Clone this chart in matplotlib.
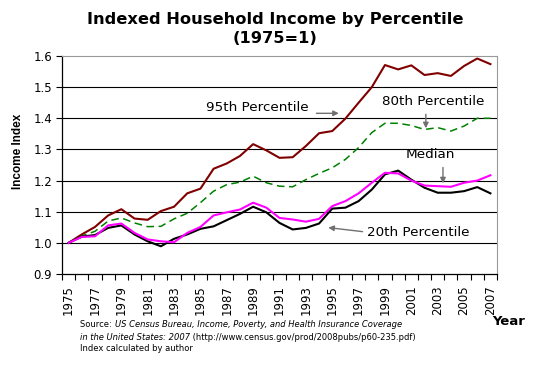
import numpy as np
import matplotlib.pyplot as plt

years = np.arange(1975, 2008)

p95 = [1.000, 1.027, 1.051, 1.088, 1.108, 1.078, 1.074, 1.102, 1.116, 1.159, 1.174,
       1.238, 1.255, 1.279, 1.317, 1.297, 1.273, 1.275, 1.311, 1.352, 1.359, 1.399,
       1.450, 1.500, 1.571, 1.557, 1.570, 1.539, 1.545, 1.536, 1.568, 1.592, 1.574]
p80 = [1.000, 1.022, 1.037, 1.070, 1.080, 1.064, 1.052, 1.053, 1.077, 1.095, 1.129,
       1.166, 1.187, 1.195, 1.214, 1.193, 1.182, 1.180, 1.203, 1.223, 1.241, 1.268,
       1.306, 1.354, 1.384, 1.384, 1.377, 1.364, 1.370, 1.359, 1.375, 1.400, 1.400]
median = [1.000, 1.019, 1.021, 1.056, 1.062, 1.032, 1.011, 1.005, 1.002, 1.032, 1.051,
          1.088, 1.098, 1.107, 1.129, 1.113, 1.080, 1.075, 1.068, 1.077, 1.118, 1.134,
          1.159, 1.193, 1.225, 1.223, 1.200, 1.184, 1.182, 1.180, 1.193, 1.200, 1.217]
p20 = [1.000, 1.020, 1.025, 1.048, 1.056, 1.027, 1.005, 0.989, 1.013, 1.027, 1.045,
       1.053, 1.073, 1.093, 1.116, 1.098, 1.064, 1.043, 1.048, 1.062, 1.110, 1.113,
       1.134, 1.171, 1.220, 1.232, 1.203, 1.177, 1.161, 1.161, 1.166, 1.179, 1.159]

yticks = np.arange(0.9, 1.65, 0.1)
xlabels = [str(y) for y in years[::2]]

fig = plt.figure(figsize=(5.42, 3.70), dpi=100)
ax = fig.add_axes([0.1144, 0.2595, 0.8026, 0.5891])

# gridlines
for v in yticks[1:-1]:
    ax.axhline(v, color='black', linewidth=0.8, zorder=1)

ax.plot(years, p95, color='#800000', linewidth=1.5, zorder=3)
ax.plot(years, p80, color='#008000', linewidth=1.1, linestyle=(0, (5, 3)), zorder=3)
ax.plot(years, p20, color='black', linewidth=1.5, zorder=3)
ax.plot(years, median, color='#FF00FF', linewidth=1.5, zorder=4)

ax.set_xlim(1974.5, 2007.5)
ax.set_ylim(0.9, 1.6)
ax.set_yticks(yticks)
ax.set_yticklabels(['%.1f' % v for v in yticks], fontsize=8.5)
ax.set_xticks(years[::2])
ax.set_xticklabels(xlabels, rotation=90, fontsize=8.5)
ax.set_xticks(np.arange(1974.5, 2008, 1), minor=True)
ax.tick_params(axis='x', which='major', length=0, pad=8)
ax.tick_params(axis='x', which='minor', length=4, direction='out', width=0.8)
ax.tick_params(axis='y', length=4, direction='out', width=0.8, pad=3)

for s in ['top', 'right']:
    ax.spines[s].set_color('#999999')
    ax.spines[s].set_linestyle((0, (1, 1)))
    ax.spines[s].set_linewidth(0.8)
for s in ['left', 'bottom']:
    ax.spines[s].set_linewidth(0.9)

fig.text(0.034, 0.592, 'Income Index', fontsize=8.5, fontweight='bold', rotation=90,
         ha='center', va='center', family='Liberation Sans')
fig.text(0.939, 0.130, 'Year', fontsize=9.5, fontweight='bold', ha='center', va='center')
fig.text(0.507, 0.946, 'Indexed Household Income by Percentile', fontsize=11.7,
         fontweight='bold', ha='center', va='center')
fig.text(0.507, 0.895, '(1975=1)', fontsize=11.7, fontweight='bold', ha='center', va='center')

# annotations
arrow = dict(arrowstyle='-|>', color='#707070', lw=1, mutation_scale=8, shrinkA=0, shrinkB=0)
afs = 9.7
ax.text(1985.4, 1.435, '95th Percentile', fontsize=afs, va='center')
ax.annotate('', xy=(1995.5, 1.416), xytext=(1993.8, 1.416), arrowprops=arrow)
ax.text(1998.8, 1.454, '80th Percentile', fontsize=afs, va='center')
ax.annotate('', xy=(2002.1, 1.368), xytext=(2002.1, 1.413), arrowprops=arrow)
ax.text(2000.6, 1.284, 'Median', fontsize=afs, va='center')
ax.annotate('', xy=(2003.4, 1.191), xytext=(2003.4, 1.242), arrowprops=arrow)
ax.text(1997.6, 1.033, '20th Percentile', fontsize=afs, va='center')
ax.annotate('', xy=(1994.7, 1.049), xytext=(1997.3, 1.036), arrowprops=arrow)

# source note
fs = 6
x0 = 0.148
t1 = fig.text(x0, 0.124, 'Source: ', fontsize=fs, va='center')
fig.canvas.draw()
bb = t1.get_window_extent().transformed(fig.transFigure.inverted())
fig.text(bb.x1, 0.124, 'US Census Bureau, Income, Poverty, and Health Insurance Coverage',
         fontsize=fs, style='italic', va='center')
t3 = fig.text(x0, 0.089, 'in the United States: 2007', fontsize=fs, style='italic', va='center')
fig.canvas.draw()
bb = t3.get_window_extent().transformed(fig.transFigure.inverted())
fig.text(bb.x1, 0.089, ' (http://www.census.gov/prod/2008pubs/p60-235.pdf)', fontsize=fs,
         va='center')
fig.text(x0, 0.057, 'Index calculated by author', fontsize=fs, va='center')

fig.savefig('out.png', dpi=100)
